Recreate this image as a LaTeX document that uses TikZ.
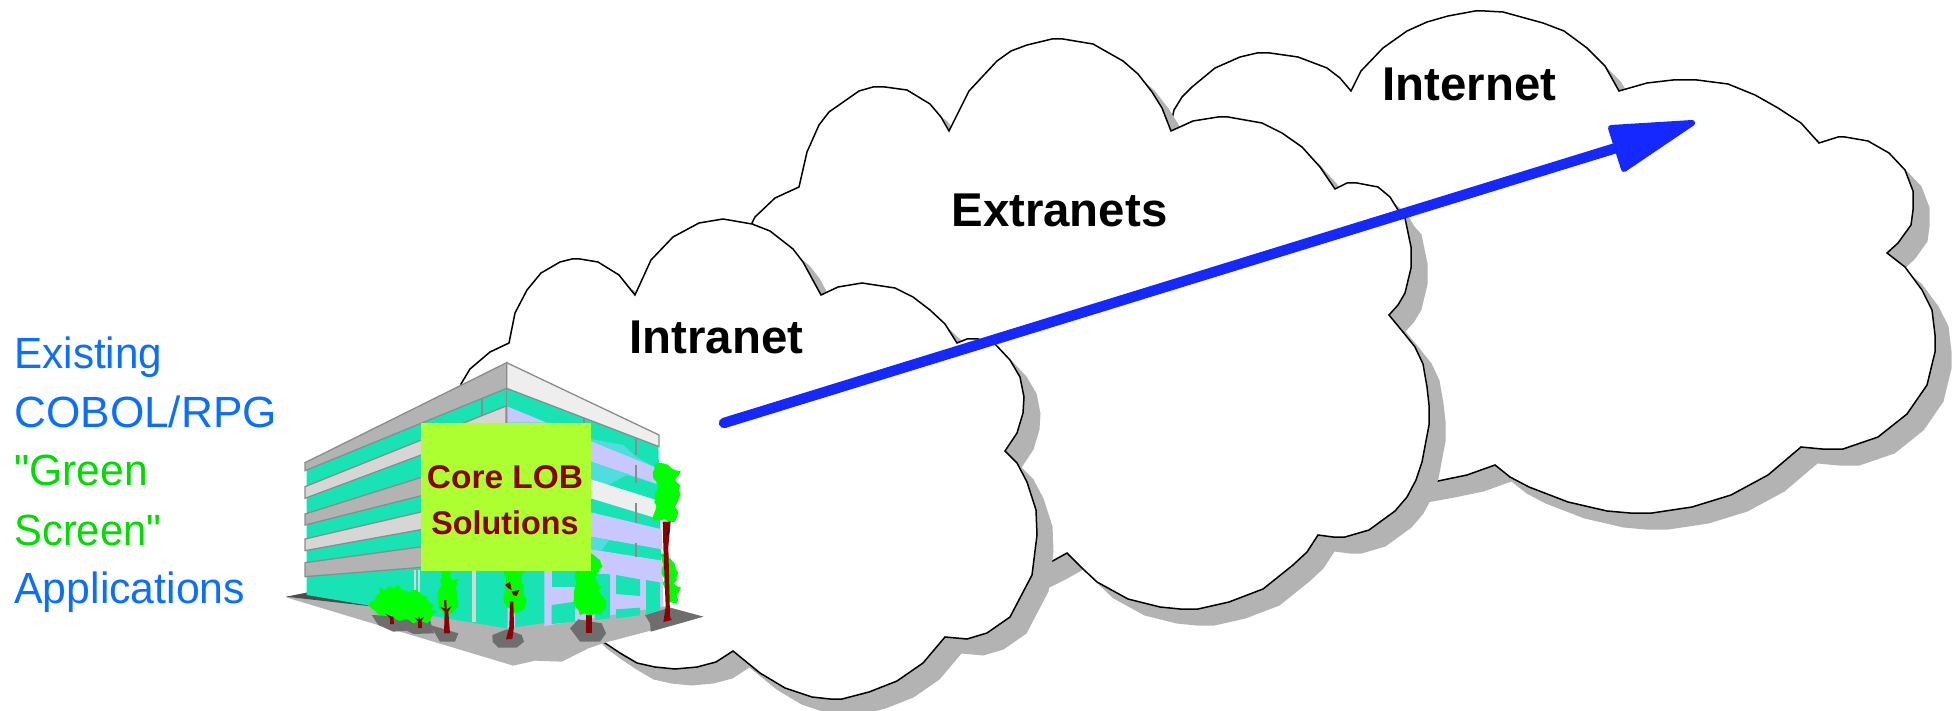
\documentclass[tikz,border=0pt]{standalone}
\usepackage{fontspec}
\usepackage{graphicx}
\usetikzlibrary{decorations.pathmorphing}
\setmainfont{Liberation Sans}
\newfontfamily\sidefont{Liberation Sans}
\definecolor{shadowgray}{HTML}{B3B3B3}
\definecolor{arrowblue}{HTML}{1428FF}
\definecolor{labelblue}{HTML}{0A6EFF}
\definecolor{labelgreen}{HTML}{00DC00}
\definecolor{teal}{HTML}{18E3B5}
\definecolor{lav}{HTML}{C8C8FF}
\definecolor{cyanish}{HTML}{4FDDDD}
\definecolor{edgegray}{HTML}{8C8C8C}
\definecolor{bandlight}{HTML}{D6D6D6}
\definecolor{bandwhite}{HTML}{EEEEEE}
\definecolor{darkground}{HTML}{6E6E6E}
\definecolor{lime}{HTML}{AEFF32}
\definecolor{treegreen}{HTML}{00FF00}
\definecolor{trunk}{HTML}{8B0000}
\tikzset{
  cloudshade/.style={fill=shadowgray,shift={(16.5,16.5)}},
  cloudface/.style={fill=white,draw=black,line width=0.75pt,miter limit=10},
  cloudlabel/.style={font=\fontsize{23.7pt}{26pt}\selectfont\bfseries,anchor=base west,inner sep=0pt,text=black},
  sidelabel/.style={font=\sidefont\fontsize{21.85pt}{26pt}\selectfont,anchor=base west,inner sep=0pt},
  boxlabel/.style={font=\fontsize{16.4pt}{20pt}\selectfont\bfseries,anchor=base,inner sep=0pt,text=trunk},
  band/.style={draw=edgegray,line width=0.65pt,line join=miter},
  mullion/.style={draw=edgegray,line width=0.65pt},
  leaf/.style={fill=treegreen,decorate,decoration={random steps,segment length=2.2pt,amplitude=0.9pt}},
  bark/.style={fill=trunk},
  patch/.style={fill=darkground},
}
\def\cloudIntra{(605,643) -- (620,653) -- (637,663) -- (655,667) -- (675,669) -- (697,667) -- (716,662) -- (733,651) -- (760,673) -- (785,688) -- (812,697) -- (830,699) -- (842,699) -- (869,692) -- (897,681) -- (923,663) -- (945,637) -- (967,639) -- (987,633) -- (1010,617) -- (1032,575) -- (1037,535) -- (1036,510) -- (1027,482) -- (1017,463) -- (1005,451) -- (1017,433) -- (1023,413) -- (1024,397) -- (1020,377) -- (1010,360) -- (995,344) -- (978,339) -- (967,339) -- (957,343) -- (945,324) -- (930,310) -- (913,297) -- (895,288) -- (862,283) -- (838,287) -- (821,295) -- (803,262) -- (793,249) -- (770,231) -- (752,224) -- (723,219) -- (699,223) -- (673,237) -- (651,260) -- (635,295) -- (619,275) -- (598,262) -- (580,259) -- (572,259) -- (560,262) -- (541,273) -- (527,290) -- (515,313) -- (509,343) -- (490,352) -- (470,369) -- (461,384) -- (470,420) -- (560,600) -- (590,632) -- cycle}
\def\cloudExtra{(752,223) -- (755,217) -- (775,198) -- (799,187) -- (807,152) -- (819,125) -- (829,112) -- (859,91) -- (873,87) -- (885,87) -- (907,90) -- (930,104) -- (941,117) -- (949,131) -- (969,91) -- (997,61) -- (1011,51) -- (1027,45) -- (1052,39) -- (1063,39) -- (1093,44) -- (1123,61) -- (1138,74) -- (1152,92) -- (1162,108) -- (1171,131) -- (1193,121) -- (1218,117) -- (1228,117) -- (1262,123) -- (1282,133) -- (1302,147) -- (1320,167) -- (1335,189) -- (1347,183) -- (1357,183) -- (1378,187) -- (1390,197) -- (1398,210) -- (1405,218) -- (1411,247) -- (1411,268) -- (1405,293) -- (1398,305) -- (1389,315) -- (1403,332) -- (1415,347) -- (1423,364) -- (1427,387) -- (1429,405) -- (1429,425) -- (1422,462) -- (1416,480) -- (1407,497) -- (1395,511) -- (1369,530) -- (1345,537) -- (1333,537) -- (1318,535) -- (1307,552) -- (1293,565) -- (1263,589) -- (1229,602) -- (1198,609) -- (1180,609) -- (1160,607) -- (1128,599) -- (1097,582) -- (1082,568) -- (1067,553) -- (1049,563) -- (1025,575) -- (1000,500) -- (760,235) -- cycle}
\def\cloudInter{(1172,119) -- (1174,110) -- (1182,97) -- (1192,87) -- (1215,68) -- (1240,57) -- (1257,53) -- (1270,53) -- (1298,57) -- (1327,68) -- (1340,78) -- (1351,91) -- (1361,71) -- (1383,48) -- (1407,31) -- (1427,22) -- (1448,16) -- (1475,11) -- (1485,11) -- (1503,12) -- (1543,23) -- (1564,31) -- (1587,48) -- (1605,66) -- (1619,91) -- (1647,83) -- (1673,80) -- (1697,80) -- (1728,84) -- (1755,95) -- (1778,108) -- (1801,123) -- (1819,143) -- (1838,137) -- (1845,137) -- (1868,141) -- (1889,153) -- (1905,170) -- (1913,191) -- (1913,210) -- (1911,225) -- (1898,243) -- (1887,253) -- (1905,267) -- (1922,290) -- (1932,310) -- (1935,335) -- (1935,352) -- (1927,385) -- (1907,414) -- (1878,437) -- (1843,449) -- (1822,449) -- (1801,447) -- (1768,475) -- (1731,495) -- (1692,507) -- (1652,513) -- (1630,513) -- (1607,511) -- (1568,502) -- (1529,487) -- (1510,477) -- (1495,465) -- (1467,475) -- (1438,481) -- (1405,487) -- (1176,140) -- cycle}
\begin{document}
\begin{tikzpicture}[x=0.5pt,y=-0.5pt]
\pgfmathsetseed{7}
\useasboundingbox (0,0) rectangle (1955,711);
% clouds, back to front
\fill[cloudshade] \cloudInter;
\draw[cloudface] \cloudInter;
\fill[cloudshade] \cloudExtra;
\draw[cloudface] \cloudExtra;
\fill[cloudshade] \cloudIntra;
\draw[cloudface] \cloudIntra;
% building, traced in 3x zoom coordinates
\begin{scope}[shift={(280,340)},x=0.16667pt,y=-0.16667pt]
  % ground
  \fill[shadowgray] (18,772) -- (700,977) -- (765,962) -- (845,965) -- (925,925) -- (975,908) -- (1270,830) -- (1170,803) -- (680,700) -- (85,757) -- cycle;
  \fill[black!70] (18,770) -- (85,757) -- (265,793) -- (265,798) -- cycle;
  \fill[patch] (1095,825) -- (1170,803) -- (1270,830) -- (1112,875) -- (1110,850) -- cycle;
  % walls
  \fill[teal] (80,380) -- (680,100) -- (1135,310) -- (1147,800) -- (680,865) -- (270,797) -- (80,765) -- cycle;
  % right wall upper strips
  \fill[lav] (683,200) -- (800,248) -- (683,248) -- cycle;
  \fill[lav] (933,303) -- (1122,380) -- (1130,432) -- (933,365) -- cycle;
  \fill[cyanish] (933,297) -- (1030,315) -- (1068,350) -- (1122,380) -- (933,303) -- cycle;
  \fill[cyanish] (933,365) -- (1130,432) -- (1040,405) -- (985,435) -- (933,418) -- cycle;
  \fill[bandwhite] (933,418) -- (1128,480) -- (1130,535) -- (933,475) -- cycle;
  \fill[lav] (933,517) -- (1145,568) -- (1147,628) -- (933,590) -- cycle;
  \fill[cyanish] (933,590) -- (987,600) -- (965,632) -- (933,628) -- cycle;
  % right wall lower storey
  \fill[lav] (793,692) -- (933,628) -- (1147,662) -- (1150,800) -- (793,858) -- cycle;
  \fill[teal] (815,692) -- (890,692) -- (890,742) -- (815,742) -- cycle;
  \fill[teal] (815,795) -- (885,785) -- (885,845) -- (815,852) -- cycle;
  \fill[teal] (935,700) -- (990,703) -- (990,835) -- (945,840) -- cycle;
  \fill[teal] (1008,705) -- (1080,718) -- (1080,768) -- (1008,762) -- cycle;
  \fill[teal] (1008,808) -- (1080,803) -- (1080,826) -- (1008,835) -- cycle;
  \fill[teal] (1098,720) -- (1140,727) -- (1140,810) -- (1098,825) -- cycle;
  \fill[lav] (683,800) -- (705,800) -- (705,862) -- (683,865) -- cycle;
  % left wall bands
  \draw[band,fill=bandlight] (75,440) -- (678,198) -- (678,250) -- (75,475) -- cycle;
  \draw[band,fill=shadowgray] (75,522) -- (500,388) -- (500,448) -- (75,555) -- cycle;
  \draw[band,fill=bandlight] (75,597) -- (500,498) -- (500,555) -- (75,632) -- cycle;
  \draw[band,fill=shadowgray] (75,668) -- (500,610) -- (500,676) -- (75,710) -- cycle;
  % roof
  \draw[band,fill=shadowgray] (75,368) -- (680,68) -- (680,145) -- (75,392) -- cycle;
  \draw[band,fill=bandwhite] (680,68) -- (1137,285) -- (1137,320) -- (680,145) -- cycle;
  % mullions and columns
  \draw[mullion] (606,178) -- (606,225);
  \draw[mullion] (680,145) -- (680,250);
  \draw[mullion] (912,235) -- (912,250);
  \draw[mullion] (1068,295) -- (1068,345);
  \draw[mullion] (1068,375) -- (1068,430);
  \draw[mullion] (1068,490) -- (1068,550);
  \draw[mullion] (1068,610) -- (1068,650);
  \fill[bandlight] (403,690) rectangle (409,755);
  \fill[bandlight] (413,690) rectangle (419,755);
  \fill[bandlight] (576,690) rectangle (587,845);
  % tree bases
  \fill[patch] (275,825) -- (395,830) -- (450,840) -- (462,880) -- (400,882) -- (380,872) -- (340,875) -- (295,855) -- cycle;
  \fill[patch] (450,855) -- (535,880) -- (525,905) -- (480,905) -- cycle;
  \fill[patch] (637,885) -- (680,868) -- (725,885) -- (732,905) -- (710,923) -- (655,923) -- (638,905) -- cycle;
  \fill[patch] (870,865) -- (895,838) -- (965,850) -- (978,880) -- (960,905) -- (900,905) -- cycle;
  % bushes and trees
  \fill[leaf] (265,793) -- (285,780) -- (290,760) -- (300,765) -- (298,742) -- (315,750) -- (330,738) -- (340,745) -- (355,735) -- (365,750) -- (385,760) -- (395,752) -- (415,755) -- (425,765) -- (440,770) -- (445,785) -- (460,795) -- (455,808) -- (470,815) -- (455,830) -- (440,850) -- (420,840) -- (400,850) -- (375,838) -- (355,842) -- (335,825) -- (305,825) -- (285,812) -- cycle;
  \fill[bark] (318,822) -- (340,832) -- (342,852) -- (330,852) -- (330,835) -- cycle;
  \fill[bark] (403,832) -- (415,838) -- (417,828) -- (420,838) -- (432,830) -- (425,843) -- (426,864) -- (414,864) -- (414,845) -- cycle;
  \fill[leaf] (485,693) -- (512,693) -- (515,720) -- (540,715) -- (525,745) -- (535,790) -- (520,820) -- (490,825) -- (475,790) -- (472,760) -- (485,735) -- cycle;
  \fill[bark] (492,780) -- (499,780) -- (500,808) -- (515,798) -- (505,815) -- (510,880) -- (492,880) -- (494,815) -- (480,800) -- (494,806) -- cycle;
  \fill[leaf] (670,693) -- (735,693) -- (725,730) -- (738,790) -- (720,815) -- (700,820) -- (678,800) -- (670,770) -- (677,730) -- cycle;
  \fill[bark] (690,785) -- (700,785) -- (702,860) -- (697,897) -- (678,898) -- (688,860) -- cycle;
  \fill[bark] (675,735) -- (690,725) -- (695,750) -- (685,745) -- cycle;
  \fill[bark] (695,755) -- (718,750) -- (710,768) -- (700,765) -- cycle;
  \fill[leaf] (933,640) -- (960,660) -- (968,680) -- (945,710) -- (965,740) -- (960,760) -- (980,795) -- (965,825) -- (900,825) -- (880,790) -- (885,740) -- (890,692) -- (925,692) -- cycle;
  \fill[bark] (918,825) -- (935,825) -- (935,880) -- (918,880) -- cycle;
  \fill[leaf] (1125,372) -- (1140,368) -- (1165,375) -- (1175,385) -- (1202,392) -- (1185,420) -- (1200,435) -- (1195,480) -- (1185,500) -- (1195,515) -- (1185,545) -- (1120,542) -- (1130,500) -- (1125,480) -- (1135,440) -- (1120,415) -- (1125,385) -- cycle;
  \fill[leaf] (1165,650) -- (1195,700) -- (1180,730) -- (1202,740) -- (1190,790) -- (1165,785) -- (1145,700) -- (1147,640) -- cycle;
  \fill[bark] (1148,545) -- (1172,545) -- (1165,620) -- (1170,830) -- (1175,840) -- (1150,846) -- (1157,800) -- (1150,620) -- cycle;
  \fill[black] (1158,585) -- (1166,570) -- (1168,575) -- (1162,588) -- cycle;
\end{scope}
% sign on the building
\fill[lime] (421,423) rectangle (591,571);
\node[boxlabel] (corelob) at (505,488) {\scalebox{1.02}[1]{Core LOB}};
\node[boxlabel] (solutions) at (505,534) {\scalebox{0.985}[1]{Solutions}};
% labels
\node[cloudlabel] (intranet) at (629,353) {Intranet};
\node[cloudlabel] (extranets) at (951,227) {Extranets};
\node[cloudlabel] (internet) at (1382,101) {Internet};
\node[sidelabel,text=labelblue] (existing) at (14,369) {\scalebox{0.967}[1]{Existing}};
\node[sidelabel,text=labelblue] (cobol) at (14,427) {\scalebox{1.01}[1]{COBOL/RPG}};
\node[sidelabel,text=labelgreen] (greenq) at (14,485) {\scalebox{0.975}[1]{"Green}};
\node[sidelabel,text=labelgreen] (screen) at (14,545) {\scalebox{0.955}[1]{Screen"}};
\node[sidelabel,text=labelblue] (apps) at (14,603) {\scalebox{0.979}[1]{Applications}};
% arrow
\coordinate (arrowstart) at (724,423);
\coordinate (arrowbase) at (1616,148);
\draw[arrowblue,line width=5.2pt,line cap=round] (arrowstart) -- (arrowbase);
\filldraw[arrowblue,line width=3pt,line join=round] (1611,128) -- (1692,123) -- (1624,169) -- cycle;
\end{tikzpicture}
\end{document}
